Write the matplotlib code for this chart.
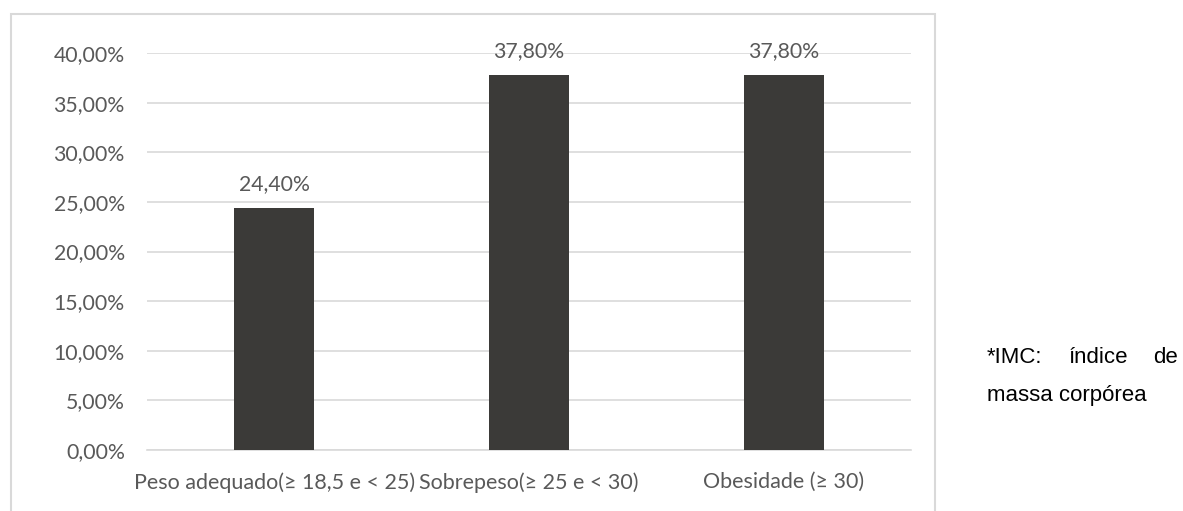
import matplotlib.pyplot as plt
from matplotlib.patches import Rectangle

# Chart data
categories = ["Peso adequado(≥ 18,5 e < 25)", "Sobrepeso(≥ 25 e < 30)", "Obesidade (≥ 30)"]
values = [24.40, 37.80, 37.80]
y_ticks = [0, 5, 10, 15, 20, 25, 30, 35, 40]

text_color = "#595959"
grid_color = "#d9d9d9"
bar_color = "#3b3a38"

W, H = 1183, 511
fig = plt.figure(figsize=(W / 100, H / 100), dpi=100)

# Outer chart-area border (bottom runs off the image)
fig.patches.append(Rectangle((11 / W, -0.05), (935 - 11) / W, 1.05 - 14 / H,
                             transform=fig.transFigure, fill=False,
                             edgecolor=grid_color, linewidth=1.5))

ax = fig.add_axes([147 / W, 1 - 450 / H, (911 - 147) / W, (450 - 53) / H])

x = range(len(categories))
ax.bar(x, values, width=0.314, color=bar_color, zorder=3)
ax.set_xlim(-0.5, len(categories) - 0.5)
ax.set_ylim(0, 40)

ax.set_yticks(y_ticks)
ax.set_yticklabels([f"{v:.2f}%".replace(".", ",") for v in y_ticks])
ax.set_xticks(list(x))
ax.set_xticklabels(categories)

for lbl in ax.get_yticklabels():
    lbl.set_fontfamily("Lato")
    lbl.set_fontsize(15.3)
    lbl.set_color(text_color)
for lbl in ax.get_xticklabels():
    lbl.set_fontfamily("Lato")
    lbl.set_fontsize(15.5)
    lbl.set_color(text_color)

ax.tick_params(axis="y", length=0, pad=16)
ax.tick_params(axis="x", length=0, pad=16)
ax.grid(axis="y", color=grid_color, linewidth=1.2, zorder=0)
for s in ["top", "right", "left"]:
    ax.spines[s].set_visible(False)
ax.spines["bottom"].set_color(grid_color)
ax.spines["bottom"].set_linewidth(1.2)

# Value labels above the bars
for xi, v in zip(x, values):
    ax.annotate(f"{v:.2f}%".replace(".", ","), (xi, v), xytext=(0, 10),
                textcoords="offset points", ha="center", va="bottom",
                fontsize=15.3, family="Lato", color=text_color,
                annotation_clip=False, zorder=4)

# Side note (justified first line)
note_kw = dict(transform=fig.transFigure, fontsize=16, family="Liberation Sans",
               color="black", va="center")
fig.text(987 / W, 1 - 357 / H, "*IMC:", ha="left", **note_kw)
fig.text(1068 / W, 1 - 357 / H, "índice", ha="left", **note_kw)
fig.text(1178 / W, 1 - 357 / H, "de", ha="right", **note_kw)
fig.text(987 / W, 1 - 395 / H, "massa corpórea", ha="left", **note_kw)

plt.savefig("out.png", dpi=100)
